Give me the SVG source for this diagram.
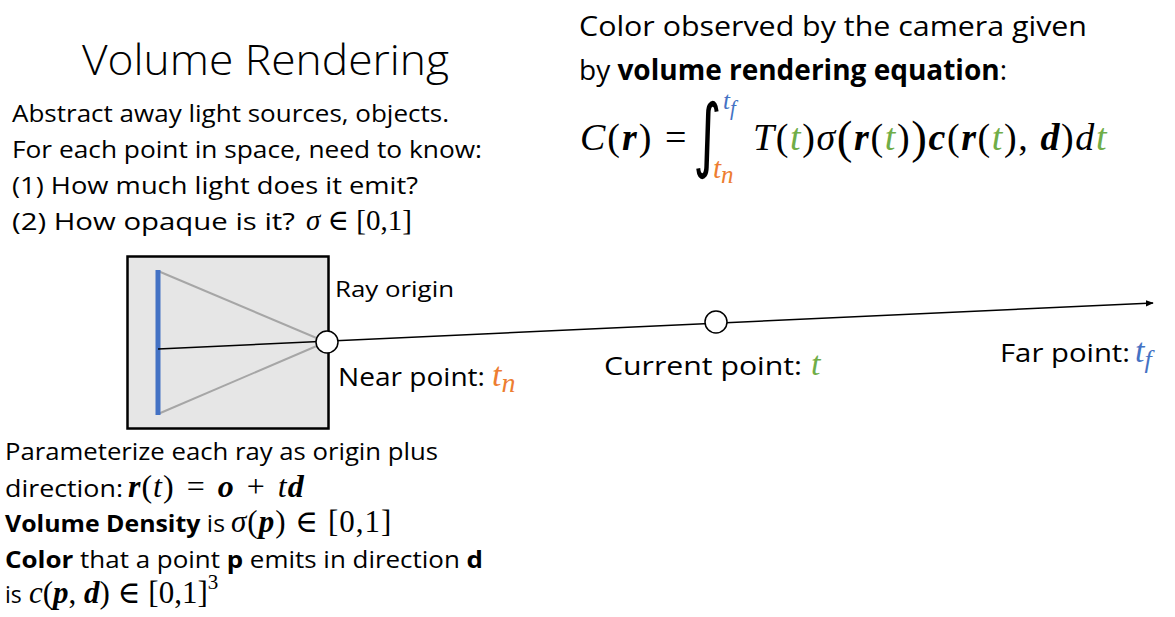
<svg xmlns="http://www.w3.org/2000/svg" width="1175" height="617" viewBox="0 0 1175 617">
<defs>
<style>
.t{font-family:"Open Sans","Liberation Sans",sans-serif;fill:#000}
.m{font-family:"Liberation Serif","DejaVu Serif",serif;font-style:italic;fill:#000}
.mu{font-family:"Liberation Serif","DejaVu Serif",serif;font-style:normal;fill:#000}
.b{font-weight:bold}
.or{fill:#ed7d31}
.gr{fill:#70ad47}
.bl{fill:#4472c4}
.node{fill:#fff;stroke:#000;stroke-width:1.5}
</style>
<marker id="arr" viewBox="0 0 10 10" refX="9" refY="5" markerWidth="8" markerHeight="8" orient="auto" markerUnits="userSpaceOnUse">
<path d="M0,1 L10,5 L0,9 z" fill="#000"/>
</marker>
</defs>
<rect width="1175" height="617" fill="#fff"/>

<g id="title">
<text class="t" x="82" y="75" font-size="42" font-weight="300" textLength="367" lengthAdjust="spacingAndGlyphs">Volume Rendering</text>
</g>

<g id="equation-caption">
<text class="t" x="579" y="36" font-size="28" textLength="508" lengthAdjust="spacingAndGlyphs">Color observed by the camera given</text>
<text class="t" x="579" y="80" font-size="28">by <tspan class="b">volume rendering equation</tspan>:</text>
</g>

<g id="equation">
<text class="m" x="580" y="150" font-size="38" letter-spacing="2">C<tspan class="mu">(</tspan><tspan class="b">r</tspan><tspan class="mu">) =</tspan></text>
<text x="0" y="0" font-size="50" font-family="DejaVu Sans,sans-serif" transform="translate(693,162) scale(1.1,1.62)">∫</text>
<text class="m bl" x="723" y="109" font-size="25">t<tspan font-size="21" dy="6">f</tspan></text>
<text class="m or" x="713" y="178" font-size="29">t<tspan font-size="25" dy="5">n</tspan></text>
<text class="m" x="753" y="150" font-size="38" letter-spacing="1.6">T<tspan class="mu">(</tspan><tspan class="gr">t</tspan><tspan class="mu">)</tspan>σ<tspan class="mu" font-size="47" dy="3">(</tspan><tspan class="b" dy="-3">r</tspan><tspan class="mu">(</tspan><tspan class="gr">t</tspan><tspan class="mu">)</tspan><tspan class="mu" font-size="47" dy="3">)</tspan><tspan class="b" dy="-3">c</tspan><tspan class="mu">(</tspan><tspan class="b">r</tspan><tspan class="mu">(</tspan><tspan class="gr">t</tspan><tspan class="mu">),</tspan> <tspan class="b">d</tspan><tspan class="mu">)</tspan>d<tspan class="gr">t</tspan></text>
</g>

<g id="intro-text">
<text class="t" x="12" y="122" font-size="23" textLength="437" lengthAdjust="spacingAndGlyphs">Abstract away light sources, objects.</text>
<text class="t" x="12" y="158" font-size="23" textLength="470" lengthAdjust="spacingAndGlyphs">For each point in space, need to know:</text>
<text class="t" x="12" y="194" font-size="23" textLength="406" lengthAdjust="spacingAndGlyphs">(1) How much light does it emit?</text>
<text class="t" x="12" y="230" font-size="23" textLength="283" lengthAdjust="spacingAndGlyphs">(2) How opaque is it?</text>
<text class="m" x="306" y="230" font-size="29">σ <tspan class="mu">∈ [0,1]</tspan></text>
</g>

<g id="camera">
<rect x="127.5" y="256.5" width="201" height="172" fill="#e6e6e6" stroke="#000" stroke-width="2.5"/>
<line x1="158" y1="271" x2="326" y2="342" stroke="#a6a6a6" stroke-width="2"/>
<line x1="158" y1="414" x2="326" y2="342" stroke="#a6a6a6" stroke-width="2"/>
<line x1="158" y1="270" x2="158" y2="415" stroke="#4472c4" stroke-width="5"/>
</g>

<g id="connectors">
<line x1="158" y1="349" x2="1153" y2="303" stroke="#000" stroke-width="1.5" marker-end="url(#arr)"/>
</g>

<g id="ray-origin">
<circle class="node" cx="327" cy="342" r="11"/>
<text class="t" x="335" y="297" font-size="22" textLength="119" lengthAdjust="spacingAndGlyphs">Ray origin</text>
</g>

<g id="near-point">
<text class="t" x="338" y="386" font-size="26" textLength="147" lengthAdjust="spacingAndGlyphs">Near point:</text>
<text class="m or" x="492" y="386" font-size="34">t<tspan font-size="28" dy="6">n</tspan></text>
</g>

<g id="current-point">
<circle class="node" cx="716" cy="322" r="11"/>
<text class="t" x="604" y="375" font-size="26" textLength="198" lengthAdjust="spacingAndGlyphs">Current point:</text>
<text class="m gr" x="811" y="375" font-size="34">t</text>
</g>

<g id="far-point">
<text class="t" x="1000" y="362" font-size="26" textLength="130" lengthAdjust="spacingAndGlyphs">Far point:</text>
<text class="m bl" x="1135" y="362" font-size="34">t<tspan font-size="26" dy="6">f</tspan></text>
</g>

<g id="bottom-text">
<text class="t" x="5" y="460" font-size="23" textLength="433" lengthAdjust="spacingAndGlyphs">Parameterize each ray as origin plus</text>
<text class="t" x="5" y="497" font-size="23" textLength="118" lengthAdjust="spacingAndGlyphs">direction:</text>
<text class="m" x="128" y="497" font-size="32" word-spacing="3" letter-spacing="1"><tspan class="b">r</tspan><tspan class="mu">(</tspan>t<tspan class="mu">) = </tspan><tspan class="b">o</tspan><tspan class="mu"> + </tspan>t<tspan class="b">d</tspan></text>
<text class="t" x="5" y="532" font-size="23" textLength="220" lengthAdjust="spacingAndGlyphs"><tspan class="b">Volume Density</tspan> is</text>
<text class="m" x="231" y="532" font-size="31" letter-spacing="1">σ<tspan class="mu">(</tspan><tspan class="b">p</tspan><tspan class="mu">) ∈ [0,1]</tspan></text>
<text class="t" x="5" y="568" font-size="23" textLength="478" lengthAdjust="spacingAndGlyphs"><tspan class="b">Color</tspan> that a point <tspan class="b">p</tspan> emits in direction <tspan class="b">d</tspan></text>
<text class="t" x="5" y="603" font-size="23">is</text>
<text class="m" x="29" y="603" font-size="31">c<tspan class="mu">(</tspan><tspan class="b">p</tspan><tspan class="mu">, </tspan><tspan class="b">d</tspan><tspan class="mu">) ∈ [0,1]</tspan><tspan class="mu" font-size="21" dy="-14">3</tspan></text>
</g>
</svg>
